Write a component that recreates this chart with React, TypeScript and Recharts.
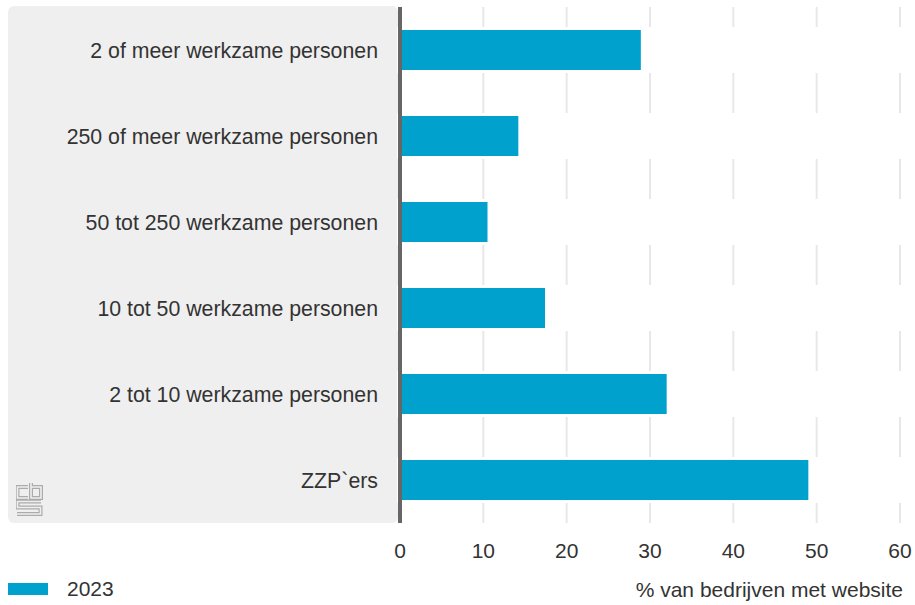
import React from 'react';
import { BarChart, Bar, XAxis, YAxis, CartesianGrid, Legend } from 'recharts';

const categories = [
  '2 of meer werkzame personen',
  '250 of meer werkzame personen',
  '50 tot 250 werkzame personen',
  '10 tot 50 werkzame personen',
  '2 tot 10 werkzame personen',
  'ZZP`ers',
];
const values2023 = [28.9, 14.2, 10.5, 17.4, 32.0, 49.0];
const xTicks = [0, 10, 20, 30, 40, 50, 60];
const seriesName = '2023';
const axisTitle = '% van bedrijven met website';

const data = categories.map((name, i) => ({ name, v2023: values2023[i] }));

const FONT = '"Liberation Sans", Arial, sans-serif';
const TEXT = '#333333';
const BLUE = '#00a1cd';

// cbs logo, drawn as hollow strokes
const CbsLogo = () => {
  const paths = [
    'M 12 5 H 1.5 V 16 H 12',
    'M 15 1 V 16 H 25 V 5 H 15',
    'M 25 19.5 H 1.5 V 25.5 H 24.5 V 32 H 1',
  ];
  return (
    <svg width={28} height={36} style={{ position: 'absolute', left: 16, top: 482 }}>
      {paths.map((d) => (
        <path key={d + 'o'} d={d} fill="none" stroke="#ababab" strokeWidth={4} />
      ))}
      {paths.map((d) => (
        <path key={d + 'i'} d={d} fill="none" stroke="#efefef" strokeWidth={1.6} />
      ))}
    </svg>
  );
};

const AxisTitle = (props: any) => {
  const vb = props.viewBox || {};
  return (
    <text
      x={vb.x + vb.width + 3}
      y={vb.y + vb.height - 8}
      textAnchor="end"
      fontSize={21}
      fill={TEXT}
      fontFamily={FONT}
    >
      {axisTitle}
    </text>
  );
};

const LegendContent = (props: any) => {
  const items = props.payload || [];
  return (
    <div style={{ display: 'flex', fontFamily: FONT }}>
      {items.map((it: any) => (
        <div key={it.value} style={{ display: 'flex', alignItems: 'center' }}>
          <div style={{ width: 40, height: 12, background: it.color }} />
          <span style={{ marginLeft: 19, fontSize: 21, color: TEXT, lineHeight: '24px' }}>{it.value}</span>
        </div>
      ))}
    </div>
  );
};

export default function App() {
  return (
    <div style={{ position: 'absolute', left: 0, top: 0, width: 915, height: 605, fontFamily: FONT }}>
      <div
        style={{
          position: 'absolute',
          left: 8,
          top: 6,
          width: 390,
          height: 517,
          borderRadius: 6,
          background: '#efefef',
        }}
      />
      <CbsLogo />
      <div style={{ position: 'absolute', left: 0, top: 0 }}>
        <BarChart
          width={915}
          height={605}
          data={data}
          layout="vertical"
          margin={{ top: 7, right: 15, bottom: 0, left: 8 }}
        >
          <CartesianGrid horizontal={false} stroke="#e8e8e8" strokeWidth={2} />
          <XAxis
            type="number"
            domain={[0, 60]}
            ticks={xTicks}
            height={82}
            axisLine={false}
            tickLine={false}
            tickSize={0}
            tickMargin={20}
            tick={{ fontSize: 21, fill: TEXT }}
            label={<AxisTitle />}
          />
          <Bar
            dataKey="v2023"
            name={seriesName}
            fill={BLUE}
            barSize={40}
            isAnimationActive={false}
            background={{ fill: '#ffffff', stroke: '#ffffff', strokeWidth: 6 }}
          />
          <YAxis
            type="category"
            dataKey="name"
            width={392}
            axisLine={{ stroke: '#666666', strokeWidth: 4 }}
            tickLine={false}
            tickSize={0}
            tickMargin={22}
            tick={{ fontSize: 21.3, fill: TEXT }}
          />
          <Legend
            layout="vertical"
            align="center"
            verticalAlign="middle"
            wrapperStyle={{ left: 8, top: 577, width: 200, height: 24 }}
            content={<LegendContent />}
          />
        </BarChart>
      </div>
    </div>
  );
}
